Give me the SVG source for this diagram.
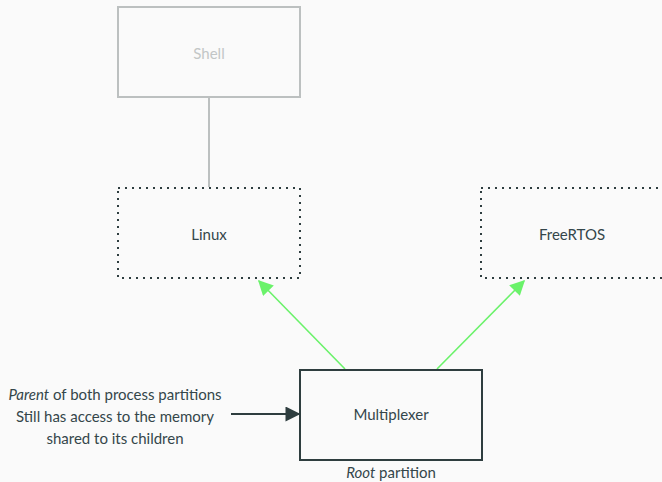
<svg xmlns="http://www.w3.org/2000/svg" width="662" height="482" viewBox="0 0 662 482">
<defs>
<style>
text{font-family:Lato,"Open Sans","DejaVu Sans",sans-serif;font-size:15px;fill:#34464a;text-anchor:middle;dominant-baseline:central}
.dotted{fill:none;stroke:#2e3d3f;stroke-width:2;stroke-dasharray:2 5}
.solid{fill:none;stroke:#2e3d3f;stroke-width:2}
.faded{fill:none;stroke:#bcc0c0;stroke-width:2}
.green{stroke:#6af26a;stroke-width:1.6;fill:none}
</style>
<marker id="ga" viewBox="0 0 10 10" refX="9" refY="5" markerWidth="17" markerHeight="15" markerUnits="userSpaceOnUse" orient="auto"><path d="M0,0L10,5L0,10z" fill="#6af26a"/></marker>
<marker id="ka" viewBox="0 0 10 10" refX="9" refY="5" markerWidth="19" markerHeight="15" markerUnits="userSpaceOnUse" orient="auto"><path d="M0,0L10,5L0,10z" fill="#2e3d3f"/></marker>
</defs>
<rect width="662" height="482" fill="#fafafa"/>
<g id="connectors">
<line x1="209" y1="98" x2="209" y2="187" stroke="#bcc0c0" stroke-width="2"/>
<line class="green" x1="345" y1="369" x2="259" y2="281" marker-end="url(#ga)"/>
<line class="green" x1="437" y1="369" x2="524" y2="281" marker-end="url(#ga)"/>
<line x1="231" y1="414" x2="299" y2="414" stroke="#2e3d3f" stroke-width="2" marker-end="url(#ka)"/>
</g>
<g id="shell">
<rect class="faded" x="118" y="7" width="182" height="90"/>
<text x="209" y="53" style="fill:#c2c6c6">Shell</text>
</g>
<g id="linux">
<rect class="dotted" x="118" y="188" width="182" height="90"/>
<text x="209" y="234">Linux</text>
</g>
<g id="freertos">
<rect class="dotted" x="481" y="188" width="182" height="90"/>
<text x="572" y="234">FreeRTOS</text>
</g>
<g id="multiplexer">
<rect class="solid" x="300" y="370" width="182" height="90"/>
<text x="391" y="414">Multiplexer</text>
<text x="391" y="472"><tspan font-style="italic">Root</tspan> partition</text>
</g>
<g id="note">
<text x="115" y="394"><tspan font-style="italic">Parent</tspan> of both process partitions</text>
<text x="115" y="416">Still has access to the memory</text>
<text x="115" y="438">shared to its children</text>
</g>
</svg>
